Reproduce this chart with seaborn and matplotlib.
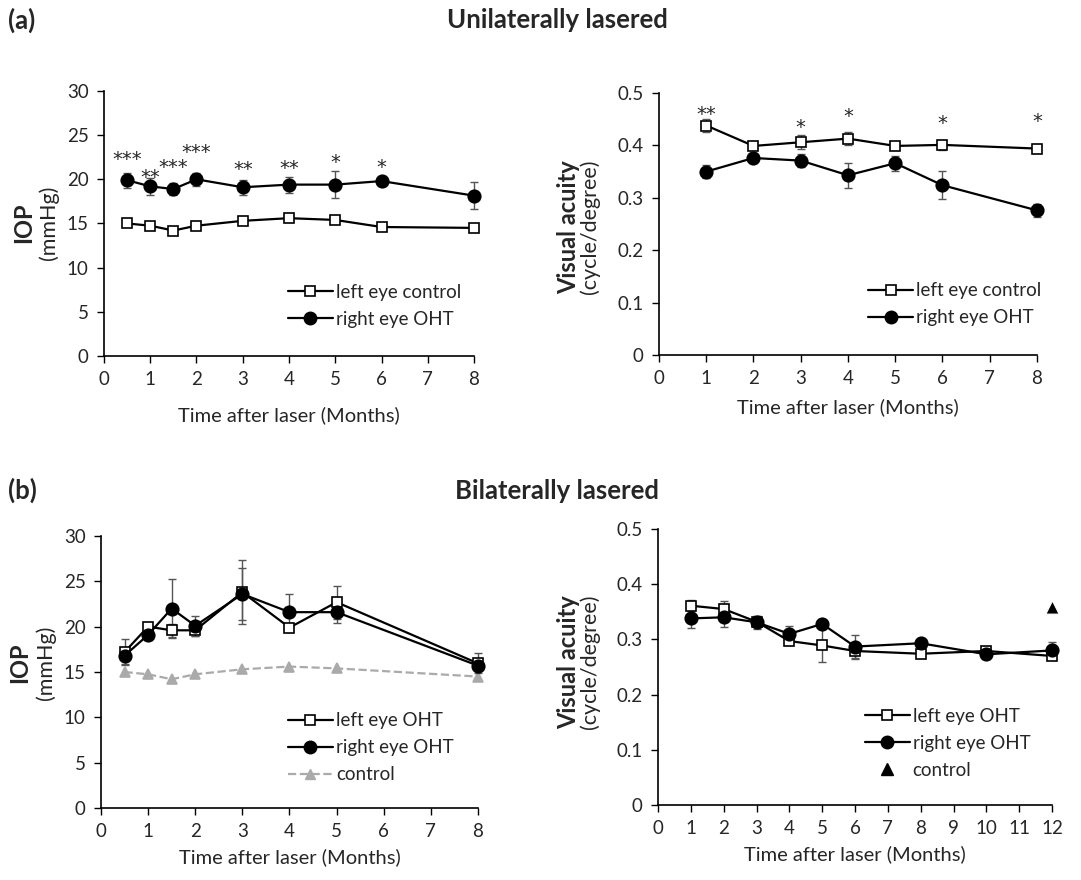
import matplotlib
matplotlib.use("Agg")
import matplotlib.pyplot as plt
import seaborn as sns
import pandas as pd
from matplotlib.lines import Line2D
from matplotlib.transforms import offset_copy

sns.set_style("ticks")
plt.rcParams['font.family'] = ['Lato', 'DejaVu Sans']

# ---------------- data ----------------
# (a) unilateral IOP
ua_iop_x = [0.5, 1, 1.5, 2, 3, 4, 5, 6, 8]
ua_iop_left = [15.0, 14.75, 14.2, 14.75, 15.3, 15.6, 15.4, 14.6, 14.5]
ua_iop_left_err = [0.25, 0.2, 0.2, 0.2, 0.25, 0.25, 0.25, 0.2, 0.2]
ua_iop_right = [19.9, 19.2, 18.9, 20.0, 19.1, 19.4, 19.4, 19.8, 18.15]
ua_iop_right_err = [0.85, 1.0, 0.7, 0.75, 0.85, 0.9, 1.55, 0.5, 1.5]
ua_iop_stars = ["***", "**", "***", "***", "**", "**", "*", "*"]
ua_iop_star_x = [0.5, 1, 1.5, 2, 3, 4, 5, 6]
ua_iop_star_y = [23.0, 20.9, 22.1, 23.8, 21.8, 22.0, 22.6, 22.1]

# (a) unilateral visual acuity
ua_va_x = [1, 2, 3, 4, 5, 6, 8]
ua_va_left = [0.438, 0.399, 0.406, 0.413, 0.399, 0.401, 0.394]
ua_va_left_err = [0.013, 0.004, 0.013, 0.012, 0.005, 0.009, 0.004]
ua_va_right = [0.350, 0.376, 0.371, 0.343, 0.366, 0.324, 0.276]
ua_va_right_err = [0.012, 0.008, 0.013, 0.024, 0.014, 0.027, 0.012]
ua_va_stars = ["**", "*", "*", "*", "*"]
ua_va_star_x = [1, 3, 4, 6, 8]
ua_va_star_y = [0.471, 0.446, 0.467, 0.455, 0.458]

# (b) bilateral IOP
ba_iop_x = [0.5, 1, 1.5, 2, 3, 4, 5, 8]
ba_iop_left = [17.2, 20.0, 19.6, 19.6, 23.8, 19.9, 22.7, 15.95]
ba_iop_left_err = [1.4, 0.5, 0.7, 0.6, 3.5, 0.5, 1.8, 1.1]
ba_iop_right = [16.8, 19.1, 22.0, 20.1, 23.6, 21.6, 21.6, 15.7]
ba_iop_right_err = [0.9, 0.6, 3.3, 1.1, 2.9, 2.0, 1.2, 0.5]
ba_ctrl_x = [0.5, 1, 1.5, 2, 3, 4, 5, 8]
ba_ctrl = [15.0, 14.75, 14.2, 14.75, 15.3, 15.6, 15.4, 14.5]

# (b) bilateral visual acuity
ba_va_x = [1, 2, 3, 4, 5, 6, 8, 10, 12]
ba_va_left = [0.361, 0.355, 0.332, 0.297, 0.289, 0.279, 0.274, 0.279, 0.270]
ba_va_left_err = [0.010, 0.015, 0.010, 0.008, 0.030, 0.014, 0.008, 0.006, 0.006]
ba_va_right = [0.338, 0.340, 0.331, 0.310, 0.328, 0.287, 0.293, 0.273, 0.280]
ba_va_right_err = [0.017, 0.017, 0.012, 0.015, 0.008, 0.021, 0.008, 0.008, 0.015]
ba_va_ctrl_x = [12]
ba_va_ctrl = [0.358]

# ---------------- figure ----------------
W, H = 1081, 880
fig = plt.figure(figsize=(W / 100, H / 100), dpi=100)
ax1 = fig.add_axes([0.0962, 0.5955, 0.3423, 0.3011])
ax2 = fig.add_axes([0.6096, 0.5966, 0.3497, 0.2977])
ax3 = fig.add_axes([0.0934, 0.0818, 0.3488, 0.3091])
ax4 = fig.add_axes([0.6087, 0.0852, 0.3645, 0.3137])

TICK_FS = 13.5
LEG_FS = 13.5
LAB_FS = 14.5
ERR_C = "#555555"
STAR_FS = 14


def series(ax, x, y, err, marker, face, size, label, color="black", ls="-", zo=3):
    if err is not None:
        ax.errorbar(x, y, yerr=err, fmt="none", ecolor=ERR_C, elinewidth=1.0,
                    capsize=3, capthick=1.0, zorder=zo - 1, clip_on=False)
    df = pd.DataFrame({"x": x, "y": y})
    sns.lineplot(data=df, x="x", y="y", ax=ax, color=color, linestyle=ls,
                 linewidth=1.6, marker=marker, markersize=size,
                 markerfacecolor=face, markeredgecolor=color,
                 markeredgewidth=1.2, zorder=zo, label=label, clip_on=False)


def style_axes(ax, xmax, xticks, ymax, yticks, yfmt, xpad=6):
    ax.set_xlim(0, xmax)
    ax.set_ylim(0, ymax)
    ax.set_xticks(xticks)
    ax.set_xticklabels([str(t) for t in xticks], fontsize=TICK_FS)
    ax.set_yticks(yticks)
    ax.set_yticklabels([yfmt(t) for t in yticks], fontsize=TICK_FS)
    ax.tick_params(direction="out", length=5, width=1, color="black", pad=6)
    for s in ["top", "right"]:
        ax.spines[s].set_visible(False)
    for s in ["left", "bottom"]:
        ax.spines[s].set_linewidth(1.2)
        ax.spines[s].set_color("black")
    ax.set_ylabel("")
    ax.set_xlabel("Time after laser (Months)", fontsize=LAB_FS, labelpad=xpad)


def make_legend(ax, handles, labels, loc):
    return ax.legend(handles, labels, loc="upper left", bbox_to_anchor=loc,
                     frameon=False, fontsize=LEG_FS, handlelength=2.4,
                     handletextpad=0.15, labelspacing=0.53, borderaxespad=0,
                     borderpad=0)


def stars(ax, xs, ys, labels):
    tr = offset_copy(ax.transData, fig=fig, y=-0.62 * STAR_FS, units="points")
    for xv, yv, s in zip(xs, ys, labels):
        ax.text(xv, yv, s, transform=tr, ha="center", va="baseline",
                fontsize=STAR_FS, family="DejaVu Sans")


iop_fmt = lambda t: f"{t:g}"
va_fmt = lambda t: "0" if t == 0 else f"{t:.1f}"

sq_h = Line2D([], [], color="black", lw=1.6, marker="s", mfc="white", mec="black", ms=6.5, mew=1.2)
ci_h = Line2D([], [], color="black", lw=1.6, marker="o", mfc="black", mec="black", ms=9)

# Panel (a) IOP
series(ax1, ua_iop_x, ua_iop_left, ua_iop_left_err, "s", "white", 6.5, "left eye control")
series(ax1, ua_iop_x, ua_iop_right, ua_iop_right_err, "o", "black", 9, "right eye OHT")
stars(ax1, ua_iop_star_x, ua_iop_star_y, ua_iop_stars)
style_axes(ax1, 8, [0, 1, 2, 3, 4, 5, 6, 7, 8], 30, [0, 5, 10, 15, 20, 25, 30], iop_fmt, xpad=13)
make_legend(ax1, [sq_h, ci_h], ["left eye control", "right eye OHT"], (0.497, 0.272))

# Panel (a) VA
series(ax2, ua_va_x, ua_va_left, ua_va_left_err, "s", "white", 6.5, "left eye control")
series(ax2, ua_va_x, ua_va_right, ua_va_right_err, "o", "black", 9, "right eye OHT")
stars(ax2, ua_va_star_x, ua_va_star_y, ua_va_stars)
style_axes(ax2, 8, [0, 1, 2, 3, 4, 5, 6, 7, 8], 0.5, [0, 0.1, 0.2, 0.3, 0.4, 0.5], va_fmt, xpad=8)
make_legend(ax2, [sq_h, ci_h], ["left eye control", "right eye OHT"], (0.553, 0.277))

# Panel (b) IOP
series(ax3, ba_ctrl_x, ba_ctrl, None, "^", "#aaaaaa", 7.5, "control", color="#aaaaaa", ls="--", zo=2)
series(ax3, ba_iop_x, ba_iop_left, ba_iop_left_err, "s", "white", 6.5, "left eye OHT")
series(ax3, ba_iop_x, ba_iop_right, ba_iop_right_err, "o", "black", 9, "right eye OHT")
style_axes(ax3, 8, [0, 1, 2, 3, 4, 5, 6, 7, 8], 30, [0, 5, 10, 15, 20, 25, 30], iop_fmt)
tr_h = Line2D([], [], color="#aaaaaa", lw=1.6, ls="--", marker="^", mfc="#aaaaaa", mec="#aaaaaa", ms=7.5)
make_legend(ax3, [sq_h, ci_h, tr_h], ["left eye OHT", "right eye OHT", "control"], (0.496, 0.352))

# Panel (b) VA
series(ax4, ba_va_x, ba_va_left, ba_va_left_err, "s", "white", 6.5, "left eye OHT")
series(ax4, ba_va_x, ba_va_right, ba_va_right_err, "o", "black", 9, "right eye OHT")
sns.scatterplot(x=ba_va_ctrl_x, y=ba_va_ctrl, ax=ax4, marker="^", color="black",
                s=90, zorder=4, clip_on=False, label="control")
style_axes(ax4, 12, list(range(13)), 0.5, [0, 0.1, 0.2, 0.3, 0.4, 0.5], va_fmt)
tb_h = Line2D([], [], color="none", lw=0, marker="^", mfc="black", mec="black", ms=9)
make_legend(ax4, [sq_h, ci_h, tb_h], ["left eye OHT", "right eye OHT", "control"], (0.525, 0.352))

# Y-axis labels (bold name + unit line)
YB_FS = 17
YU_FS = 15.5


def ylab(xb, xu, yc, name, unit):
    fig.text(xb / W, 1 - yc / H, name, rotation=90, ha="center", va="center",
             fontsize=YB_FS, fontweight="bold")
    fig.text(xu / W, 1 - yc / H, unit, rotation=90, ha="center", va="center",
             fontsize=YU_FS)


ylab(24, 49, 223, "IOP", "(mmHg)")
ylab(569, 590, 227, "Visual acuity", "(cycle/degree)")
ylab(20, 46, 663, "IOP", "(mmHg)")
ylab(569, 590, 662, "Visual acuity", "(cycle/degree)")

# Panel titles
T_FS = 18.5
fig.text(8 / W, 1 - 29 / H, "(a)", ha="left", va="baseline", fontsize=T_FS, fontweight="bold")
fig.text(557 / W, 1 - 28 / H, "Unilaterally lasered", ha="center", va="baseline",
         fontsize=T_FS, fontweight="bold")
fig.text(8 / W, 1 - 499 / H, "(b)", ha="left", va="baseline", fontsize=T_FS, fontweight="bold")
fig.text(557 / W, 1 - 499 / H, "Bilaterally lasered", ha="center", va="baseline",
         fontsize=T_FS, fontweight="bold")

fig.savefig("out.png", dpi=100, facecolor="white")
